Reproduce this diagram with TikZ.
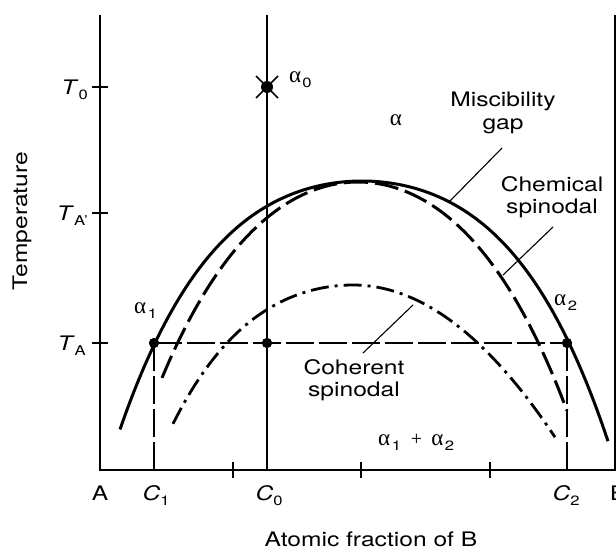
\documentclass[tikz,border=0pt]{standalone}
\usepackage{fontspec}
\setmainfont{TeX Gyre Heros}[FakeStretch=1.23]
\newfontfamily\grk{Liberation Serif}
\newcommand\sbs[1]{\raisebox{-5pt}{\fontsize{13.5}{14}\selectfont #1}}
\newcommand\alp{{\grk\fontsize{23}{23}\selectfont α}}
\begin{document}
\begin{tikzpicture}[x=1pt,y=-1pt,
  lbl/.style={font=\fontsize{20}{22.5}\selectfont, inner sep=0pt, align=center},
  axisline/.style={line width=2pt},
  tickline/.style={line width=1.6pt},
  gapline/.style={line width=3pt},
  chem/.style={line width=3pt, dash pattern=on 24pt off 7pt},
  coh/.style={line width=2.8pt, dash pattern=on 18pt off 6pt on 3pt off 6pt},
  guide/.style={line width=1.3pt, dash pattern=on 28pt off 5pt},
  leader/.style={line width=1.1pt},
  dot/.style={circle, fill=black, inner sep=0pt, minimum size=10pt},
  declare function={
    mg(\t)=181+25.2*\t*\t+2.94*\t*\t*\t*\t;
    cs(\t)=182+41*\t*\t+2.6*\t*\t*\t*\t;
    cohL(\t)=285+30.4*\t*\t+3.84*\t*\t*\t*\t;
    cohR(\t)=285+37.3*\t*\t;
  }
]
\useasboundingbox (0,0) rectangle (616,549);
\fill[white] (0,0) rectangle (616,549);

% axes
\coordinate (Atop) at (100,15);
\coordinate (O) at (100,470);
\coordinate (Bbot) at (614.5,470);
\coordinate (Btop) at (614.5,15);
\draw[axisline] (Atop) -- (O) -- (Bbot) -- (Btop);

% ticks
\foreach \yy in {87,213,343} \draw[tickline] (92,\yy) -- (108,\yy);
\foreach \xx in {233,361,490} \draw[tickline] (\xx,462) -- (\xx,478);

% composition line C0
\coordinate (c0top) at (267,15);
\coordinate (c0bot) at (267,470);
\draw[line width=1.3pt] (c0top) -- (c0bot);

% curves
\draw[gapline] plot[domain=120:608, samples=90, smooth] (\x,{mg((\x-362)/100)});
\draw[chem] plot[domain=162:567, samples=90, smooth] (\x,{cs((\x-358)/100)});
\draw[coh] plot[domain=173:353, samples=50, smooth] (\x,{cohL((\x-353)/100)})
  -- plot[domain=353:555, samples=50, smooth] (\x,{cohR((\x-353)/100)});

% tie line and points
\coordinate (c1bot) at (154,470);
\coordinate (c2bot) at (567,470);
\node[dot] (p1) at (154,343) {};
\node[dot] (p0) at (267,343) {};
\node[dot] (p2) at (567,343) {};
\draw[guide] (p1.center) -- (p2.center);
\draw[guide] (p1.center) -- (c1bot);
\draw[guide] (p2.center) -- (c2bot);
\node[dot] at (154,343) {};
\node[dot] at (267,343) {};
\node[dot] at (567,343) {};

% alpha0 point
\node[dot, minimum size=12pt] (a0) at (267,87) {};
\coordinate (x1) at (256,76);
\coordinate (x2) at (278,98);
\coordinate (x3) at (256,98);
\coordinate (x4) at (278,76);
\draw[line width=1.5pt] (x1) -- (x2);
\draw[line width=1.5pt] (x3) -- (x4);

% labels
\node[lbl, anchor=base east] (T0) at (88,94) {\textit{T}\sbs{0}};
\node[lbl, anchor=base east] (TAp) at (88,220) {\textit{T}\sbs{A'}};
\node[lbl, anchor=base east] (TA) at (86,350) {\textit{T}\sbs{A}};

\node[lbl, anchor=base] (A) at (100,500) {A};
\node[lbl, anchor=base] (C1) at (156,500) {\textit{C}\sbs{1}};
\node[lbl, anchor=base] (C0) at (269,500) {\textit{C}\sbs{0}};
\node[lbl, anchor=base] (C2) at (566,500) {\textit{C}\sbs{2}};
\node[lbl, anchor=base west] (B) at (610,500) {B};

\node[lbl] (xl) at (371,539) {Atomic fraction of B};
\node[lbl, rotate=90] (yl) at (22,221) {Temperature};

\node[lbl, anchor=base west] (la0) at (289,82) {\alp\kern1pt\sbs{0}};
\node[lbl, anchor=base] (la) at (396,125) {\alp};
\node[lbl, anchor=base west] (la1) at (134,313) {\alp\kern1.5pt\sbs{1}};
\node[lbl, anchor=base west] (la2) at (554,305) {\alp\kern1.5pt\sbs{2}};
\node[lbl, anchor=base west] (la12) at (378,445) {\alp\kern1.5pt\sbs{1}\kern10pt{\grk\fontsize{20}{20}\selectfont +}\kern9pt\alp\kern1.5pt\sbs{2}};

\node[lbl] (mgl) at (503,113) {Miscibility\\gap};
\node[lbl] (csl) at (552,197) {Chemical\\spinodal};
\node[lbl] (chl) at (354,380) {Coherent\\spinodal};

% leaders
\coordinate (mgA) at (502,148);
\coordinate (mgB) at (450,201);
\coordinate (csA) at (553,227);
\coordinate (csB) at (503,275);
\coordinate (chA) at (413,305);
\coordinate (chB) at (363,353);
\draw[leader] (mgA) -- (mgB);
\draw[leader] (csA) -- (csB);
\draw[leader] (chA) -- (chB);
\end{tikzpicture}
\end{document}
